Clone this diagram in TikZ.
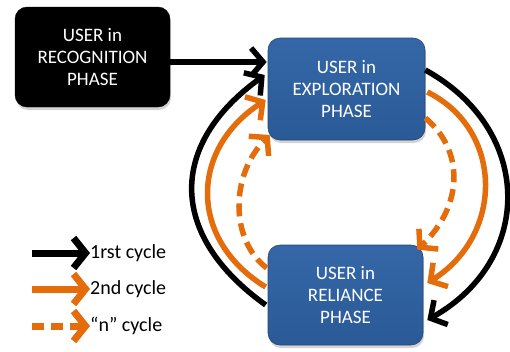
\documentclass[tikz,border=0pt]{standalone}
\usepackage{fontspec}
\setmainfont{Carlito}
\usetikzlibrary{arrows.meta,calc,shadows}

\definecolor{phaseblue}{HTML}{2A5A96}
\definecolor{phasetop}{HTML}{3567A8}
\definecolor{cycorange}{HTML}{E46C0A}

\tikzset{
  phase/.style={rectangle, rounded corners=12pt, minimum width=155pt, minimum height=100pt,
    text=white, align=center, font=\fontsize{19}{22}\selectfont,
    drop shadow={shadow xshift=1pt, shadow yshift=-3pt, opacity=0.35}},
  bluephase/.style={phase, top color=phasetop, bottom color=phaseblue, draw=phaseblue!80!black, line width=0.6pt},
  blackphase/.style={phase, fill=black, draw=black},
  cycone/.style={draw=black, line width=5.5pt, -{Straight Barb[length=12pt,width=28pt]}},
  cyctwo/.style={draw=cycorange, line width=5.5pt, -{Straight Barb[length=12pt,width=28pt]}},
  cycn/.style={cyctwo, dash pattern=on 13pt off 7pt},
  keyone/.style={draw=black, line width=7pt, -{Straight Barb[length=12pt,width=30pt]}},
  keytwo/.style={draw=cycorange, line width=7pt, -{Straight Barb[length=12pt,width=30pt]}},
  keyn/.style={keytwo, dash pattern=on 12pt off 7pt},
  keytext/.style={anchor=west, inner sep=0pt, font=\fontsize{20}{22}\selectfont}
}

\begin{document}
\begin{tikzpicture}[x=1pt,y=-1pt]
\useasboundingbox (0,0) rectangle (510,351);

% Phase boxes
\node[blackphase] (recog) at (92.5,57) {USER in\\RECOGNITION\\PHASE};
\node[bluephase, minimum width=157pt, minimum height=102pt] (explor) at (346.5,89) {USER in\\EXPLORATION\\PHASE};
\node[bluephase] (relia) at (345.5,295) {USER in\\RELIANCE\\PHASE};

% 1rst cycle
\draw[cycone] ($(recog.east)+(0,5)$) -- ($(explor.west)+(-1,-27)$);
\draw[cycone] ($(relia.west)+(-2,10)$) .. controls (168,235) and (168,145) .. ($(explor.west)+(-3,-14)$);
\draw[cycone] ($(explor.east)+(0,-19)$) .. controls (534,130) and (534,260) .. ($(relia.east)+(4,25)$);

% 2nd cycle
\draw[cyctwo] ($(explor.east)+(2,3)$) .. controls (504,130) and (504,235) .. ($(relia.east)+(4,-12)$);
\draw[cyctwo] ($(relia.west)+(-2,-8)$) .. controls (189,240) and (189,150) .. ($(explor.west)+(-2,11)$);

% "n" cycle
\draw[cycn] ($(explor.east)+(0,29)$) .. controls (464,150) and (464,205) .. ($(relia.north east)+(-6,5)$);
\draw[cycn] ($(relia.west)+(-1,-27)$) .. controls (230,240) and (230,175) .. ($(explor.west)+(2,46)$);

% Legend
\node[keytext] (key1) at (90,253) {1rst cycle};
\node[keytext] (key2) at (90,289) {2nd cycle};
\node[keytext] (keyn) at (90,326) {“n” cycle};
\coordinate (from1) at (32,253);
\coordinate (from2) at (32,289);
\coordinate (fromn) at (32,326);
\draw[keyone] (from1) -- (key1.west);
\draw[keytwo] (from2) -- (key2.west);
\draw[keyn] (fromn) -- (keyn.west);
\end{tikzpicture}
\end{document}
